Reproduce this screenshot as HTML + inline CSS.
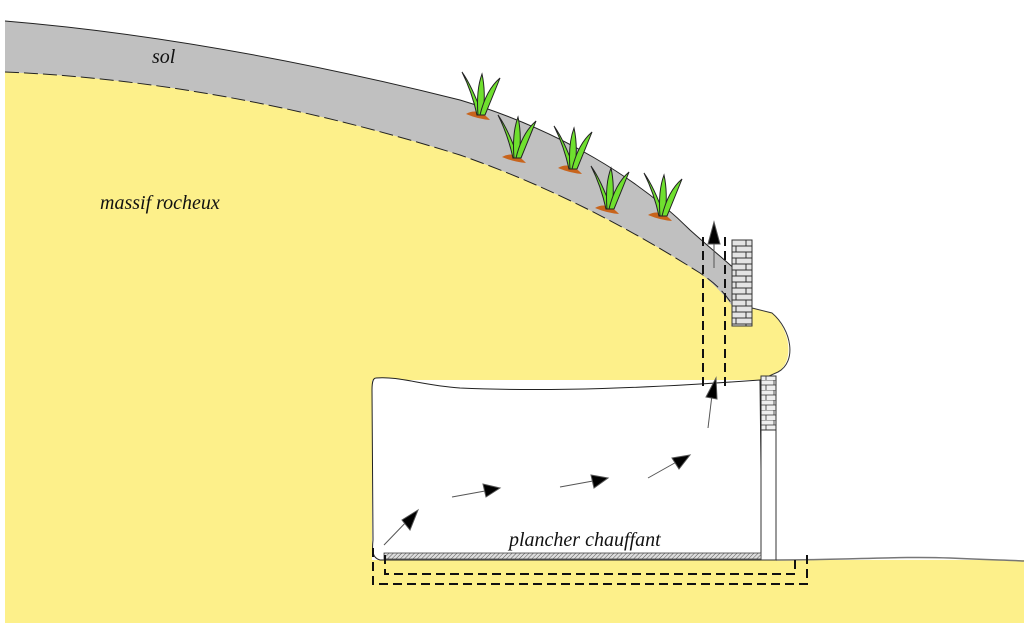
<!DOCTYPE html>
<html><head><meta charset="utf-8"><style>
html,body{margin:0;padding:0;background:#fff;}
svg{display:block;}
text{font-family:"Liberation Serif",serif;font-style:italic;fill:#111;}
</style></head><body>
<svg width="1024" height="625" viewBox="0 0 1024 625" xmlns="http://www.w3.org/2000/svg">
<defs>
<pattern id="brick" width="20" height="12" patternUnits="userSpaceOnUse">
<rect width="20" height="12" fill="#e4e4e4"/>
<path d="M0 0H20M0 6H20M0 12H20M6 0V6M16 6V12" stroke="#333" stroke-width="1"/>
</pattern>
<pattern id="brick2" width="14" height="10" patternUnits="userSpaceOnUse">
<rect width="14" height="10" fill="#eee"/>
<path d="M0 0H14M0 5H14M4 0V5M10 5V10" stroke="#333" stroke-width="0.8"/>
</pattern>
<pattern id="hatch" width="3" height="3" patternUnits="userSpaceOnUse" patternTransform="rotate(45)">
<rect width="3" height="3" fill="#ddd"/><line x1="0" y1="0" x2="0" y2="3" stroke="#555" stroke-width="1"/>
</pattern>
<g id="plant">
<path d="M-12 2 Q0 -5 12 8 Q0 7 -12 2Z" fill="#c8641c"/>
<path d="M-1 3 Q-6 -20 -16 -40 Q-6 -26 4 2Z" fill="#6fe02e" stroke="#222" stroke-width="1"/>
<path d="M0 3 Q-2 -22 4 -38 Q8 -20 5 3Z" fill="#6fe02e" stroke="#222" stroke-width="1"/>
<path d="M2 3 Q8 -22 22 -34 Q14 -14 7 3Z" fill="#6fe02e" stroke="#222" stroke-width="1"/>
</g>
</defs>
<!-- yellow ground -->
<path d="M5 72 C150 78 300 105 460 155 C560 190 640 235 700 273 C715 283 725 292 735 310 L752 308 L772 313 C790 330 795 360 778 372 L760 380 L372 380 L372 560 L1024 560 L1024 623 L5 623 Z" fill="#fdf08a"/>
<!-- grey soil band -->
<path d="M5 21 C150 33 300 60 460 100 C560 130 640 180 690 230 C710 248 725 260 738 272 L738 315 C728 298 715 285 700 273 C640 235 560 190 460 155 C300 105 150 78 5 72 Z" fill="#c0c0c0"/>
<path d="M5 21 C150 33 300 60 460 100 C560 130 640 180 690 230 C710 248 725 260 738 272" fill="none" stroke="#222" stroke-width="1"/>
<path d="M5 72 C150 78 300 105 460 155 C560 190 640 235 700 273 C715 283 725 292 737 312" fill="none" stroke="#222" stroke-width="1" stroke-dasharray="14 5"/>
<path d="M752 308 L772 313 C792 330 797 362 778 372 L760 380" fill="none" stroke="#333" stroke-width="1"/>
<!-- cave -->
<path d="M376 378 C400 376 420 385 460 388 C550 392 650 388 760 380 L762 560 L380 560 C372 558 372 550 373 540 L372 390 C372 382 373 378 376 378Z" fill="#fff" stroke="#222" stroke-width="1"/>
<path d="M776 560 C850 560 900 556 950 558 C990 560 1010 560 1024 561" fill="none" stroke="#777" stroke-width="1.5"/>
<!-- wall -->
<rect x="761" y="376" width="15" height="184" fill="#fff" stroke="#333" stroke-width="1"/>
<rect x="761" y="376" width="15" height="54" fill="url(#brick2)" stroke="#333" stroke-width="1"/>
<!-- chimney -->
<rect x="732" y="240" width="20" height="86" fill="url(#brick)" stroke="#333" stroke-width="1"/>
<!-- floor -->
<rect x="384" y="553" width="377" height="6" fill="url(#hatch)" stroke="#444" stroke-width="0.8"/>
<!-- dashed pipes -->
<g fill="none" stroke="#111" stroke-width="2" stroke-dasharray="9 5">
<line x1="703" y1="237" x2="703" y2="390"/>
<line x1="725" y1="237" x2="725" y2="390"/>
<path d="M385 555 V574 H795 V555"/>
<path d="M373 548 V584 H807 V555"/>
</g>
<!-- arrows -->
<g stroke="#555" stroke-width="1" fill="#000">
<line x1="384" y1="545" x2="410" y2="518"/><polygon points="418,510 402,520 410,530"/>
<line x1="452" y1="497" x2="485" y2="491"/><polygon points="500,488 483,484 486,497"/>
<line x1="560" y1="487" x2="593" y2="481"/><polygon points="608,478 591,475 594,488"/>
<line x1="648" y1="478" x2="680" y2="460"/><polygon points="690,455 672,458 679,469"/>
<line x1="708" y1="428" x2="712" y2="395"/><polygon points="716,378 706,397 717,399"/>
<line x1="714" y1="268" x2="714" y2="240"/><polygon points="714,222 708,244 720,244"/>
</g>
<!-- plants -->
<use href="#plant" x="478" y="112"/>
<use href="#plant" x="514" y="155"/>
<use href="#plant" x="570" y="166"/>
<use href="#plant" x="607" y="206"/>
<use href="#plant" x="660" y="213"/>
<!-- labels -->
<text x="152" y="63" font-size="20">sol</text>
<text x="100" y="209" font-size="20">massif rocheux</text>
<text x="509" y="546" font-size="20">plancher chauffant</text>
</svg>
</body></html>
